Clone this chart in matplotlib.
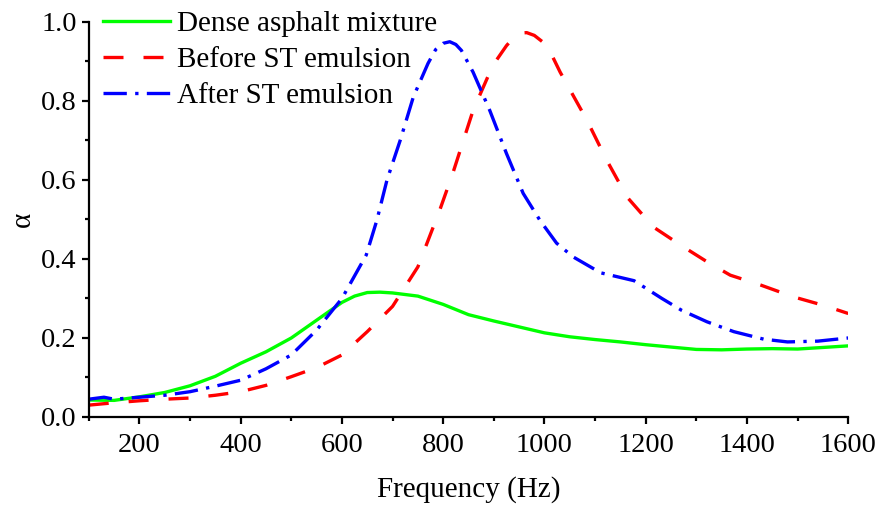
import numpy as np
import matplotlib.pyplot as plt

plt.rcParams['font.family'] = ['Liberation Serif', 'DejaVu Serif']

# Dense asphalt mixture
freq_dense = [100, 150, 200, 250, 300, 350, 400, 450, 500, 550, 600, 625, 650, 675,
              700, 750, 800, 850, 900, 950, 1000, 1050, 1100, 1150, 1200, 1250, 1300,
              1350, 1400, 1450, 1500, 1550, 1600]
alpha_dense = [0.043, 0.042, 0.051, 0.062, 0.079, 0.103, 0.136, 0.165, 0.200, 0.245,
               0.290, 0.306, 0.315, 0.316, 0.314, 0.306, 0.285, 0.259, 0.243, 0.228,
               0.213, 0.203, 0.196, 0.190, 0.183, 0.177, 0.171, 0.170, 0.172, 0.173,
               0.172, 0.176, 0.180]

# Before ST emulsion
freq_before = [100, 150, 200, 250, 300, 350, 400, 450, 500, 550, 600, 650, 700, 750,
               793, 819, 859, 898, 925, 940, 952, 965, 980, 1000, 1015, 1031, 1084,
               1123, 1163, 1215, 1269, 1321, 1367, 1427, 1492, 1550, 1600]
alpha_before = [0.030, 0.036, 0.041, 0.045, 0.048, 0.055, 0.064, 0.080, 0.102, 0.125,
                0.157, 0.216, 0.280, 0.380, 0.523, 0.617, 0.776, 0.890, 0.940, 0.962,
                0.972, 0.973, 0.966, 0.946, 0.915, 0.873, 0.751, 0.650, 0.557, 0.481,
                0.435, 0.393, 0.359, 0.334, 0.304, 0.283, 0.262]

# After ST emulsion
freq_after = [100, 130, 150, 200, 250, 300, 350, 400, 450, 500, 550, 600, 648, 669,
              689, 715, 741, 770, 785, 800, 813, 825, 836, 859, 892, 925, 958, 991,
              1024, 1057, 1111, 1177, 1232, 1271, 1321, 1374, 1433, 1480, 1540, 1600]
alpha_after = [0.045, 0.050, 0.045, 0.050, 0.055, 0.064, 0.078, 0.093, 0.122, 0.157,
               0.220, 0.300, 0.410, 0.498, 0.600, 0.700, 0.810, 0.895, 0.930, 0.946,
               0.950, 0.943, 0.928, 0.873, 0.776, 0.667, 0.566, 0.498, 0.440, 0.405,
               0.365, 0.345, 0.300, 0.270, 0.241, 0.216, 0.197, 0.190, 0.192, 0.200]

fig = plt.figure(figsize=(8.79, 5.11), dpi=100)
ax = fig.add_axes([0.101, 0.184, 0.864, 0.773])

ax.plot(freq_dense, alpha_dense, color='#00ff00', lw=2.4, label='Dense asphalt mixture')
ax.plot(freq_before, alpha_before, color='#ff0000', lw=2.4, dashes=(6, 6),
        label='Before ST emulsion')
ax.plot(freq_after, alpha_after, color='#0000ff', lw=2.4, dashes=(7, 2.5, 1, 2.5),
        label='After ST emulsion')

ax.set_xlim(100, 1600)
ax.set_ylim(0, 1.0)
ax.set_xticks(np.arange(200, 1601, 200))
ax.set_xticks(np.arange(100, 1601, 100), minor=True)
ax.set_yticks(np.arange(0, 1.01, 0.2))
ax.set_yticks(np.arange(0, 1.01, 0.1), minor=True)
ax.yaxis.set_major_formatter(plt.FuncFormatter(lambda v, p: f'{v:.1f}'))

for s in ['top', 'right']:
    ax.spines[s].set_visible(False)
for s in ['left', 'bottom']:
    ax.spines[s].set_linewidth(1.6)

ax.tick_params(which='major', direction='out', length=5, width=1.6, labelsize=20.5)
ax.tick_params(axis='x', which='major', pad=6.5)
ax.tick_params(which='minor', direction='out', length=3, width=1.6)

ax.set_xlabel('Frequency (Hz)', fontsize=21, labelpad=13)
ax.set_ylabel('α', fontsize=21, labelpad=4)

ax.legend(loc='upper left', frameon=False, fontsize=21, handlelength=2.3,
          borderaxespad=0.0, bbox_to_anchor=(0.003, 1.058), labelspacing=0.33,
          handletextpad=0.25)

fig.savefig('out.png', dpi=100)
